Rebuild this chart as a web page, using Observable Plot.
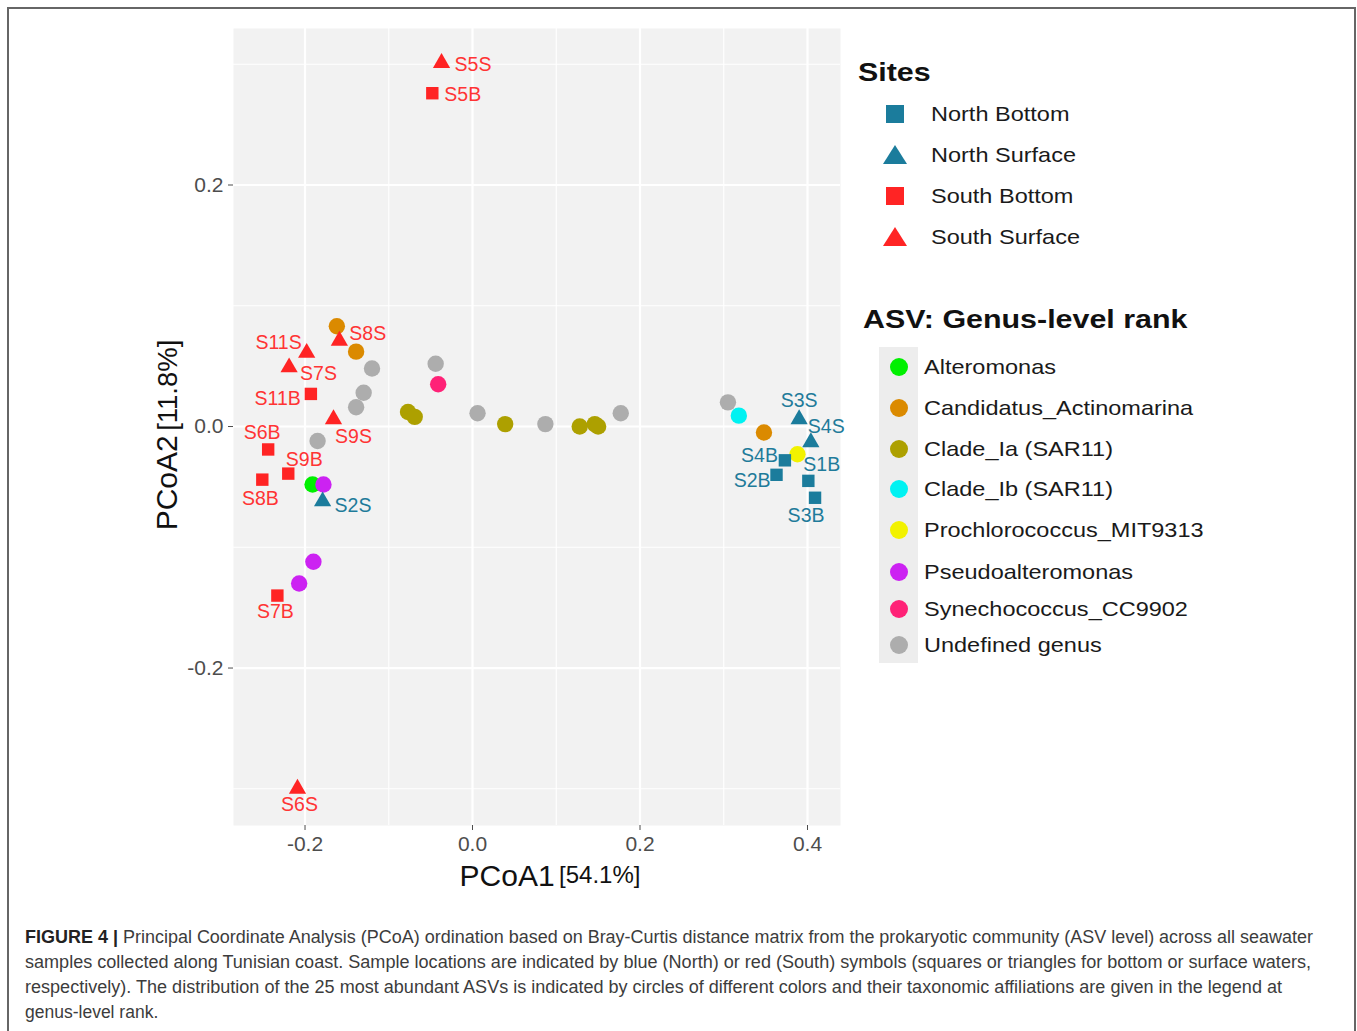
<!DOCTYPE html>
<html>
<head>
<meta charset="utf-8">
<script src="https://cdn.jsdelivr.net/npm/d3@7"></script>
<script src="https://cdn.jsdelivr.net/npm/@observablehq/plot@0.6"></script>
<style>
html,body{margin:0;padding:0;background:#fff;}
body{font-family:"Liberation Sans",Arial,Helvetica,sans-serif;width:1357px;height:1031px;overflow:hidden;position:relative;}
#frame{position:absolute;left:7px;top:7px;width:1349px;height:1100px;border:2px solid #666;box-sizing:border-box;}
#chart{position:absolute;left:0;top:0;}
#ylab{position:absolute;left:167px;top:435px;transform:translate(-50%,-50%) rotate(-90deg);white-space:nowrap;color:#111;line-height:1;}
#xlab{position:absolute;left:550px;top:876px;transform:translate(-50%,-50%);white-space:nowrap;color:#111;line-height:1;}
#legend{position:absolute;left:840px;top:0;}
#caption{position:absolute;left:25px;top:925px;color:#3c3c3c;font-size:17.5px;line-height:25px;}
#caption div{white-space:nowrap;transform-origin:0 50%;width:max-content;}
#caption b{color:#222;}
</style>
</head>
<body>
<div id="frame"></div>
<div id="chart"></div>
<div id="ylab"></div>
<div id="xlab"></div>
<div id="legend"></div>
<div id="caption"></div>
<script>
// ---------------- data ----------------
const siteCategories = ["North Bottom", "North Surface", "South Bottom", "South Surface"];

const sampleNames = ["S5S","S5B","S8S","S11S","S7S","S11B","S9S","S6B","S9B","S8B","S2S","S7B","S6S","S3S","S4S","S4B","S2B","S1B","S3B"];
const sampleSites = ["South Surface","South Bottom","South Surface","South Surface","South Surface","South Bottom","South Surface","South Bottom","South Bottom","South Bottom","North Surface","South Bottom","South Surface","North Surface","North Surface","North Bottom","North Bottom","North Bottom","North Bottom"];
const samplePCoA1 = [-0.037,-0.048,-0.159,-0.198,-0.219,-0.193,-0.166,-0.244,-0.220,-0.251,-0.179,-0.233,-0.209,0.390,0.404,0.373,0.363,0.401,0.409];
const samplePCoA2 = [0.301,0.276,0.071,0.061,0.049,0.027,0.006,-0.019,-0.039,-0.044,-0.062,-0.140,-0.300,0.006,-0.013,-0.028,-0.040,-0.045,-0.059];

const genusCategories = ["Alteromonas","Candidatus_Actinomarina","Clade_Ia (SAR11)","Clade_Ib (SAR11)","Prochlorococcus_MIT9313","Pseudoalteromonas","Synechococcus_CC9902","Undefined genus"];

const asvGenus = ["Candidatus_Actinomarina","Candidatus_Actinomarina","Undefined genus","Undefined genus","Undefined genus","Undefined genus","Synechococcus_CC9902","Clade_Ia (SAR11)","Clade_Ia (SAR11)","Undefined genus","Clade_Ia (SAR11)","Undefined genus","Clade_Ia (SAR11)","Clade_Ia (SAR11)","Clade_Ia (SAR11)","Undefined genus","Undefined genus","Alteromonas","Pseudoalteromonas","Pseudoalteromonas","Pseudoalteromonas","Undefined genus","Clade_Ib (SAR11)","Candidatus_Actinomarina","Prochlorococcus_MIT9313"];
const asvPCoA1 = [-0.162,-0.139,-0.120,-0.130,-0.139,-0.044,-0.041,-0.077,-0.069,0.006,0.039,0.087,0.128,0.146,0.150,0.177,-0.185,-0.191,-0.178,-0.190,-0.207,0.305,0.318,0.348,0.388];
const asvPCoA2 = [0.083,0.062,0.048,0.028,0.016,0.052,0.035,0.012,0.008,0.011,0.002,0.002,0.000,0.002,0.000,0.011,-0.012,-0.048,-0.048,-0.112,-0.130,0.020,0.009,-0.005,-0.023];

const xTicks = [-0.2, 0.0, 0.2, 0.4];
const yTicks = [-0.2, 0.0, 0.2];
const xMinor = [-0.1, 0.1, 0.3];
const yMinor = [-0.3, -0.1, 0.1, 0.3];

const xTitle = "PCoA1", xTitlePct = "[54.1%]";
const yTitle = "PCoA2", yTitlePct = "[11.8%]";
const sitesTitle = "Sites";
const genusTitle = "ASV: Genus-level rank";

const captionLead = "FIGURE 4 |";
const captionLines = [
  " Principal Coordinate Analysis (PCoA) ordination based on Bray-Curtis distance matrix from the prokaryotic community (ASV level) across all seawater",
  "samples collected along Tunisian coast. Sample locations are indicated by blue (North) or red (South) symbols (squares or triangles for bottom or surface waters,",
  "respectively). The distribution of the 25 most abundant ASVs is indicated by circles of different colors and their taxonomic affiliations are given in the legend at",
  "genus-level rank."
];

// ---------------- styles ----------------
const genusColors = ["#00F000","#DB8A00","#ADA000","#00F2F2","#F2F200","#CC22F2","#FF2277","#ADADAD"];
const regionColor = {North: "#1B7C9C", South: "#FF2424"};
const regionText = {North: "#1F7B9A", South: "#FF3434"};
const depthSymbol = {Bottom: "square", Surface: "triangle"};
// label placement [dx, dy, anchor]
const labelPlace = {
  S5S:[13,2,"start"], S5B:[12,2,"start"], S8S:[10,-7,"start"], S11S:[-5,-10,"end"],
  S7S:[11,6,"start"], S11B:[-10,5,"end"], S9S:[20,17,"middle"], S6B:[-6,-17,"middle"],
  S9B:[16,-14,"middle"], S8B:[-2,19,"middle"], S2S:[12,4,"start"], S7B:[-2,16,"middle"],
  S6S:[2,16,"middle"], S3S:[0,-19,"middle"], S4S:[-3,-15,"start"], S4B:[-7,-5,"end"],
  S2B:[-6,6,"end"], S1B:[-5,-16,"start"], S3B:[-9,18,"middle"]
};

// ---------------- build ----------------
const samples = sampleNames.map((name, i) => ({name, site: sampleSites[i], x: samplePCoA1[i], y: samplePCoA2[i]}));
const asvs = asvGenus.map((g, i) => ({genus: g, x: asvPCoA1[i], y: asvPCoA2[i]}));

const siteMarks = siteCategories.map(site => {
  const [region, depth] = site.split(" ");
  const sym = depthSymbol[depth];
  return Plot.dot(samples.filter(d => d.site === site), {
    x: "x", y: "y", symbol: sym, fill: regionColor[region], stroke: "none",
    r: sym === "square" ? 7.0 : 6.4
  });
});

const labelMarks = samples.map(d => {
  const [dx, dy, anchor] = labelPlace[d.name];
  const region = d.site.split(" ")[0];
  return Plot.text([d], {x: "x", y: "y", text: "name", dx, dy, textAnchor: anchor,
    fill: regionText[region], fontSize: 19.5});
});

const chart = Plot.plot({
  width: 860, height: 900,
  marginLeft: 233, marginRight: 20, marginTop: 28, marginBottom: 75,
  x: {domain: [-0.2854, 0.4394]},
  y: {domain: [-0.3304, 0.3296]},
  color: {domain: genusCategories, range: genusColors},
  style: {fontFamily: '"Liberation Sans", Arial, sans-serif', fontSize: "21px", color: "#4d4d4d", background: "transparent", overflow: "visible"},
  marks: [
    Plot.frame({fill: "#F2F2F2", stroke: "none"}),
    Plot.gridX(xMinor, {stroke: "#fff", strokeOpacity: 1, strokeWidth: 1.1}),
    Plot.gridY(yMinor, {stroke: "#fff", strokeOpacity: 1, strokeWidth: 1.1}),
    Plot.gridX(xTicks, {stroke: "#fff", strokeOpacity: 1, strokeWidth: 2.2}),
    Plot.gridY(yTicks, {stroke: "#fff", strokeOpacity: 1, strokeWidth: 2.2}),
    Plot.axisX(xTicks, {tickFormat: d => d.toFixed(1), tickSize: 5, tickPadding: 6, fontSize: 21, label: null}),
    Plot.axisY(yTicks, {tickFormat: d => d.toFixed(1), tickSize: 5, tickPadding: 5, fontSize: 21, label: null}),
    Plot.dot(asvs, {x: "x", y: "y", fill: "genus", r: 8.2, stroke: "none"}),
    ...siteMarks,
    ...labelMarks
  ]
});
document.getElementById("chart").appendChild(chart);

// axis titles
document.getElementById("ylab").innerHTML =
  `<span style="font-size:30px">${yTitle}</span> <span style="font-size:27.5px">${yTitlePct}</span>`;
document.getElementById("xlab").innerHTML =
  `<span style="font-size:30px">${xTitle}</span> <span style="font-size:24px;position:relative;top:-3px">${xTitlePct}</span>`;

// legend
const L = 840;
const leg = d3.select("#legend").append("svg").attr("width", 517).attr("height", 700).style("overflow", "visible")
  .style("font-family", '"Liberation Sans", Arial, sans-serif');
leg.append("text").attr("transform", `translate(${858 - L},72) scale(1.17,1)`).attr("dominant-baseline", "central")
  .style("font-weight", "bold").style("font-size", "26px").attr("fill", "#111").text(sitesTitle);
const siteRowY = [114, 155, 196, 237];
siteCategories.forEach((s, i) => {
  const [region, depth] = s.split(" ");
  const cx = 895 - L, cy = siteRowY[i];
  if (depthSymbol[depth] === "square")
    leg.append("rect").attr("x", cx - 9).attr("y", cy - 9).attr("width", 18).attr("height", 18).attr("fill", regionColor[region]);
  else
    leg.append("path").attr("d", `M${cx},${cy - 10}L${cx + 12},${cy + 9}L${cx - 12},${cy + 9}Z`).attr("fill", regionColor[region]);
  leg.append("text").attr("transform", `translate(${931 - L},${cy}) scale(1.12,1)`).attr("dominant-baseline", "central")
    .style("font-size", "21px").attr("fill", "#1a1a1a").text(s);
});
leg.append("text").attr("transform", `translate(${863 - L},319) scale(1.17,1)`).attr("dominant-baseline", "central")
  .style("font-weight", "bold").style("font-size", "26px").attr("fill", "#111").text(genusTitle);
leg.append("rect").attr("x", 879 - L).attr("y", 347).attr("width", 39).attr("height", 316).attr("fill", "#EDEDED");
const genusRowY = [367, 408, 449, 489, 530, 572, 609, 645];
genusCategories.forEach((g, i) => {
  const cy = genusRowY[i];
  leg.append("circle").attr("cx", 899 - L).attr("cy", cy).attr("r", 9).attr("fill", genusColors[i]);
  leg.append("text").attr("transform", `translate(${924 - L},${cy}) scale(1.12,1)`).attr("dominant-baseline", "central")
    .style("font-size", "21px").attr("fill", "#1a1a1a").text(g);
});

// caption
const cap = document.getElementById("caption");
const targets = [1288, 1286, 1257, null];
captionLines.forEach((line, i) => {
  const div = document.createElement("div");
  if (i === 0) { const b = document.createElement("b"); b.textContent = captionLead; div.appendChild(b); }
  div.appendChild(document.createTextNode(line));
  cap.appendChild(div);
  if (targets[i]) {
    const w = div.getBoundingClientRect().width;
    div.style.transform = `scaleX(${targets[i] / w})`;
  }
});
</script>
</body>
</html>
